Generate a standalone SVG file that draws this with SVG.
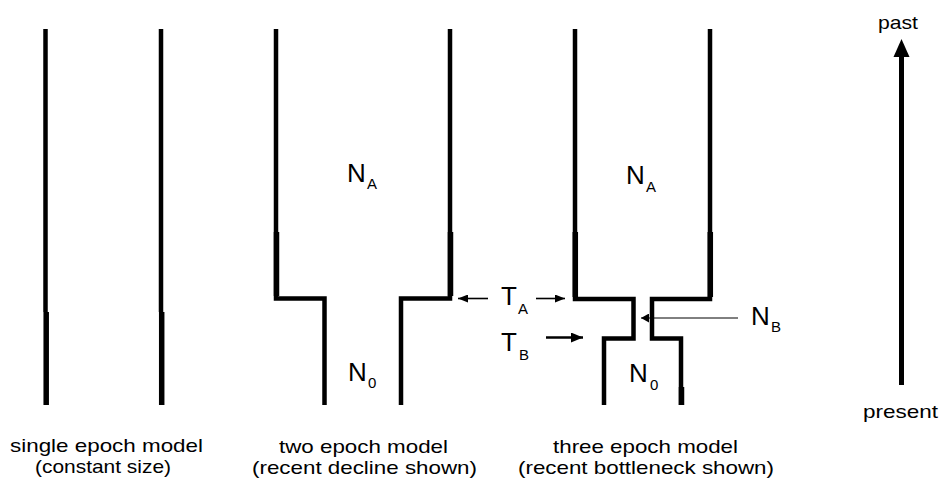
<svg xmlns="http://www.w3.org/2000/svg" width="939" height="484" viewBox="0 0 939 484">
<style>
.wall{fill:none;stroke:#000;stroke-width:4.5;stroke-linejoin:miter;stroke-linecap:butt}
.thick{fill:none;stroke:#000;stroke-width:5.5}
.big{font-family:"Liberation Sans",Arial,sans-serif;font-size:26px;fill:#000}
.sub{font-family:"Liberation Sans",Arial,sans-serif;font-size:15px;fill:#000}
.cap{font-family:"Liberation Sans",Arial,sans-serif;font-size:19px;fill:#000}
.ptr{fill:none;stroke:#000}
</style>
<defs>
<marker id="ahA" markerWidth="10" markerHeight="8" refX="10" refY="4" orient="auto" markerUnits="userSpaceOnUse"><path d="M0,0 L10,4 L0,8 z" fill="#000"/></marker>
<marker id="ahB" markerWidth="12" markerHeight="10" refX="12" refY="5" orient="auto" markerUnits="userSpaceOnUse"><path d="M0,0 L12,5 L0,10 z" fill="#000"/></marker>
<marker id="ahN" markerWidth="8" markerHeight="9" refX="8" refY="4.5" orient="auto" markerUnits="userSpaceOnUse"><path d="M0,0 L8,4.5 L0,9 z" fill="#000"/></marker>
</defs>
<rect width="939" height="484" fill="#fff"/>

<g id="single-epoch">
<path class="wall" d="M45.5,29 V312"/>
<path class="thick" d="M46.2,312 V405"/>
<path class="wall" d="M161,29 V312"/>
<path class="thick" d="M161.7,312 V405"/>
<text class="cap" x="10" y="452" textLength="193" lengthAdjust="spacingAndGlyphs">single epoch model</text>
<text class="cap" x="35" y="473" textLength="136" lengthAdjust="spacingAndGlyphs">(constant size)</text>
</g>

<g id="two-epoch">
<path class="wall" d="M276,29 V298.5 H324.5 V405"/>
<path class="wall" d="M450,29 V298.5 H401 V405"/>
<path class="thick" d="M276.5,232 V296"/>
<path class="thick" d="M450.5,232 V296"/>
<text class="big" x="347" y="182">N</text><text class="sub" x="367" y="189">A</text>
<text class="big" x="348" y="381">N</text><text class="sub" x="368" y="388">0</text>
<text class="cap" x="279" y="453" textLength="169" lengthAdjust="spacingAndGlyphs">two epoch model</text>
<text class="cap" x="252" y="474" textLength="225" lengthAdjust="spacingAndGlyphs">(recent decline shown)</text>
</g>

<g id="three-epoch">
<path class="wall" d="M575,29 V299 H633.5 V338.5 H604 V405"/>
<path class="wall" d="M710,29 V299 H652 V338.5 H681 V405"/>
<path class="thick" d="M575.3,232 V297"/>
<path class="thick" d="M710.3,232 V297"/>
<path class="thick" d="M681.5,387 V405"/>
<text class="big" x="626" y="184">N</text><text class="sub" x="646" y="192">A</text>
<text class="big" x="629" y="382">N</text><text class="sub" x="650" y="390">0</text>
<text class="cap" x="553" y="453" textLength="185" lengthAdjust="spacingAndGlyphs">three epoch model</text>
<text class="cap" x="518" y="474" textLength="256" lengthAdjust="spacingAndGlyphs">(recent bottleneck shown)</text>
</g>

<g id="time-labels">
<text class="big" x="501" y="305">T</text><text class="sub" x="518" y="314">A</text>
<text class="big" x="501" y="351">T</text><text class="sub" x="519" y="360">B</text>
<text class="big" x="751" y="325">N</text><text class="sub" x="771" y="332">B</text>
</g>

<g id="time-axis">
<path d="M901.5,385 V54" stroke="#000" stroke-width="5" fill="none"/>
<path d="M901.5,39 L893.5,57 L909.5,57 z" fill="#000"/>
<text class="cap" x="878" y="29" textLength="40" lengthAdjust="spacingAndGlyphs">past</text>
<text class="cap" x="863" y="418" textLength="75" lengthAdjust="spacingAndGlyphs">present</text>
</g>

<g id="connectors">
<path class="ptr" stroke-width="1.6" d="M488,298.5 H458" marker-end="url(#ahA)"/>
<path class="ptr" stroke-width="1.6" d="M536,298.5 H565" marker-end="url(#ahA)"/>
<path class="ptr" stroke-width="2.5" d="M546,337.5 H583" marker-end="url(#ahB)"/>
<path class="ptr" stroke-width="1" d="M738,318 H641" marker-end="url(#ahN)"/>
</g>
</svg>
